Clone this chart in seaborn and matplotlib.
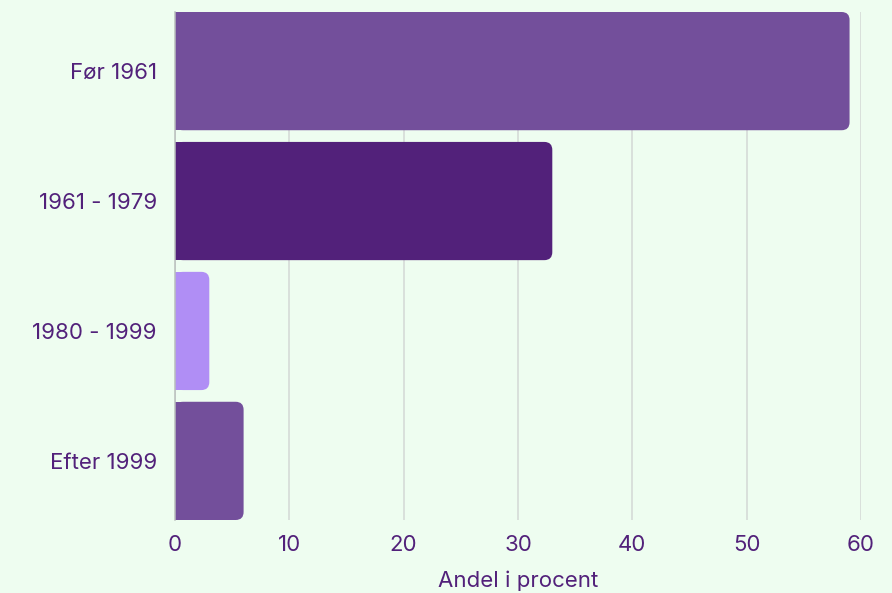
import matplotlib
matplotlib.use("Agg")
import matplotlib.pyplot as plt
from matplotlib.patches import FancyBboxPatch, Rectangle
import seaborn as sns
import pandas as pd

# Share of buildings by construction period
periods = ["Før 1961", "1961 - 1979", "1980 - 1999", "Efter 1999"]
shares = [59, 33, 3, 6]
bar_colors = ["#734f9b", "#52217a", "#b08ef5", "#734f9b"]
x_ticks = [0, 10, 20, 30, 40, 50, 60]
x_label = "Andel i procent"

bg = "#eefdf0"
text_color = "#52217a"
grid_color = "#d3d8d5"

sns.set_theme(style="white")
plt.rcParams["font.family"] = ["Inter", "DejaVu Sans"]

df = pd.DataFrame({"periode": periods, "andel": shares})

fig = plt.figure(figsize=(8.92, 5.93), dpi=100, facecolor=bg)
ax = fig.add_axes([175 / 892, 1 - 520 / 593, (861 - 175) / 892, (520 - 12) / 593])
ax.set_facecolor(bg)

bar_width = 0.91
sns.barplot(data=df, x="andel", y="periode", hue="periode", palette=bar_colors,
            saturation=1, legend=False, width=bar_width, ax=ax, zorder=2)

ax.set_xlim(0, 60)
ax.set_ylim(len(periods) - 1 + bar_width / 2, -bar_width / 2)
ax.set_xticks(x_ticks)

# Rounded right-hand corners on each bar
fig.canvas.draw()
x_per_px = 60 / (ax.get_window_extent().width)
y_per_px = (len(periods) - 1 + bar_width) / (ax.get_window_extent().height)
radius_px = 8
for patch in list(ax.patches):
    x0, y0 = patch.get_x(), patch.get_y()
    w, h = patch.get_width(), patch.get_height()
    color = patch.get_facecolor()
    patch.set_visible(False)
    r = radius_px * x_per_px
    rounded = FancyBboxPatch((x0, y0), w, h,
                             boxstyle=f"round,pad=0,rounding_size={r}",
                             mutation_aspect=y_per_px / x_per_px,
                             facecolor=color, edgecolor="none", zorder=2)
    ax.add_patch(rounded)
    ax.add_patch(Rectangle((x0, y0), min(w / 2, 2 * r), h,
                           facecolor=color, edgecolor="none", zorder=2))

# Vertical grid and spines
ax.grid(axis="x", color=grid_color, linewidth=1.1, zorder=0)
ax.set_axisbelow(True)
for side in ["top", "right", "bottom"]:
    ax.spines[side].set_visible(False)
ax.spines["left"].set_color("#b9bfbc")
ax.spines["left"].set_linewidth(1.1)
ax.spines["left"].set_zorder(3)

ax.tick_params(axis="both", length=0, labelsize=16, colors=text_color)
ax.tick_params(axis="y", pad=13)
ax.tick_params(axis="x", pad=11)
ax.set_ylabel("")
ax.set_xlabel(x_label, fontsize=16, color=text_color, labelpad=11)

fig.savefig("out.png", dpi=100, facecolor=bg)
